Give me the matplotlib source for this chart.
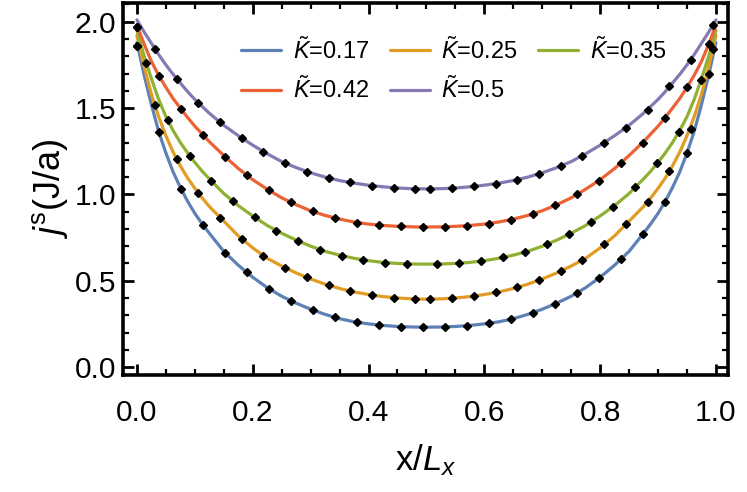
import matplotlib
matplotlib.use("Agg")
import matplotlib.pyplot as plt
from matplotlib.ticker import MultipleLocator, FormatStrFormatter

plt.rcParams['font.family'] = ['Liberation Sans', 'DejaVu Sans']
plt.rcParams['mathtext.fontset'] = 'custom'
plt.rcParams['mathtext.rm'] = 'Liberation Sans'
plt.rcParams['mathtext.it'] = 'Liberation Sans:italic'

# ---- curves ----
x_line = [0.0, 0.0125, 0.025, 0.0375, 0.05, 0.0625, 0.075, 0.0875, 0.1, 0.1125, 0.125,
          0.15, 0.175, 0.2, 0.225, 0.25, 0.275, 0.3, 0.325, 0.35, 0.375, 0.4, 0.425, 0.45,
          0.475, 0.5, 0.525, 0.55, 0.575, 0.6, 0.625, 0.65, 0.675, 0.7, 0.725, 0.75, 0.775,
          0.8, 0.825, 0.85, 0.875, 0.8875, 0.9, 0.9125, 0.925, 0.9375, 0.95, 0.9625, 0.975,
          0.9875, 1.0]

line_017 = [1.88, 1.69, 1.52, 1.365, 1.24, 1.13, 1.04, 0.96, 0.89, 0.83, 0.775, 0.67, 0.59,
            0.52, 0.46, 0.41, 0.37, 0.335, 0.305, 0.28, 0.262, 0.25, 0.241, 0.235, 0.232, 0.231,
            0.232, 0.235, 0.241, 0.25, 0.262, 0.28, 0.305, 0.335, 0.37, 0.41, 0.46, 0.52, 0.59,
            0.67, 0.775, 0.83, 0.89, 0.96, 1.04, 1.13, 1.24, 1.365, 1.52, 1.69, 1.88]
line_025 = [1.92, 1.74, 1.58, 1.45, 1.34, 1.245, 1.165, 1.095, 1.035, 0.98, 0.93, 0.845, 0.76,
            0.69, 0.63, 0.585, 0.545, 0.51, 0.48, 0.455, 0.435, 0.42, 0.408, 0.40, 0.395, 0.393,
            0.395, 0.40, 0.408, 0.42, 0.435, 0.455, 0.48, 0.51, 0.545, 0.585, 0.63, 0.69, 0.76,
            0.845, 0.93, 0.98, 1.035, 1.095, 1.165, 1.245, 1.34, 1.45, 1.58, 1.74, 1.92]
line_035 = [1.95, 1.80, 1.67, 1.55, 1.45, 1.37, 1.30, 1.24, 1.185, 1.135, 1.09, 1.005, 0.935,
            0.875, 0.82, 0.775, 0.735, 0.70, 0.67, 0.648, 0.63, 0.616, 0.606, 0.60, 0.597, 0.596,
            0.597, 0.60, 0.606, 0.616, 0.63, 0.648, 0.67, 0.70, 0.735, 0.775, 0.82, 0.875, 0.935,
            1.005, 1.09, 1.135, 1.185, 1.24, 1.30, 1.37, 1.45, 1.55, 1.67, 1.80, 1.95]
line_042 = [1.98, 1.87, 1.77, 1.69, 1.62, 1.555, 1.50, 1.445, 1.395, 1.35, 1.305, 1.225, 1.15,
            1.085, 1.03, 0.98, 0.94, 0.905, 0.878, 0.857, 0.84, 0.828, 0.82, 0.815, 0.812, 0.811,
            0.812, 0.815, 0.82, 0.828, 0.84, 0.857, 0.878, 0.905, 0.94, 0.98, 1.03, 1.085, 1.15,
            1.225, 1.305, 1.35, 1.395, 1.445, 1.50, 1.555, 1.62, 1.69, 1.77, 1.87, 1.98]
line_050 = [2.01, 1.94, 1.875, 1.81, 1.75, 1.695, 1.645, 1.595, 1.55, 1.51, 1.47, 1.40, 1.34,
            1.285, 1.235, 1.19, 1.155, 1.125, 1.10, 1.08, 1.065, 1.053, 1.044, 1.037, 1.033, 1.032,
            1.033, 1.037, 1.044, 1.053, 1.065, 1.08, 1.10, 1.125, 1.155, 1.19, 1.235, 1.285, 1.34,
            1.40, 1.47, 1.51, 1.55, 1.595, 1.645, 1.695, 1.75, 1.81, 1.875, 1.94, 2.01]

# ---- numerical points (diamonds), each set on its own grid ----
x_pts_a = [0.0, 0.038, 0.076, 0.114, 0.152, 0.19, 0.228, 0.266, 0.304, 0.342, 0.38, 0.418,
           0.456, 0.494, 0.532, 0.57, 0.608, 0.646, 0.684, 0.722, 0.76, 0.798, 0.836, 0.874,
           0.912, 0.95, 0.988]
x_pts_b = [0.0, 0.031, 0.0685, 0.106, 0.1435, 0.181, 0.2185, 0.256, 0.2935, 0.331, 0.3685,
           0.406, 0.4435, 0.481, 0.507, 0.5445, 0.582, 0.6195, 0.657, 0.6945, 0.732, 0.7695,
           0.807, 0.8445, 0.882, 0.9195, 0.957, 0.9945]
x_pts_c = [0.016, 0.0535, 0.091, 0.1285, 0.166, 0.2035, 0.241, 0.2785, 0.316, 0.3535, 0.391,
           0.4285, 0.466, 0.518, 0.556, 0.594, 0.632, 0.67, 0.708, 0.746, 0.784, 0.822, 0.86,
           0.898, 0.936, 0.974]

pts_017 = [1.86, 1.36, 1.033, 0.823, 0.663, 0.548, 0.453, 0.385, 0.33, 0.288, 0.26, 0.243,
           0.234, 0.231, 0.233, 0.24, 0.254, 0.277, 0.314, 0.366, 0.43, 0.515, 0.625, 0.771,
           0.958, 1.24, 1.70]
pts_042 = [1.97, 1.687, 1.495, 1.345, 1.219, 1.11, 1.025, 0.953, 0.901, 0.863, 0.837, 0.822,
           0.814, 0.811, 0.813, 0.819, 0.831, 0.854, 0.887, 0.936, 1.0, 1.08, 1.18, 1.30,
           1.445, 1.62, 1.87]
pts_025 = [1.86, 1.515, 1.205, 1.008, 0.866, 0.743, 0.645, 0.575, 0.519, 0.475, 0.44, 0.417,
           0.402, 0.394, 0.393, 0.399, 0.411, 0.432, 0.462, 0.503, 0.556, 0.62, 0.71, 0.826,
           0.958, 1.135, 1.38, 1.84]
pts_050 = [1.97, 1.843, 1.67, 1.53, 1.418, 1.327, 1.248, 1.181, 1.132, 1.095, 1.069, 1.051,
           1.039, 1.033, 1.032, 1.036, 1.046, 1.06, 1.085, 1.12, 1.163, 1.225, 1.30, 1.387,
           1.49, 1.625, 1.78, 1.98]
pts_035 = [1.76, 1.43, 1.225, 1.078, 0.96, 0.867, 0.79, 0.73, 0.68, 0.646, 0.621, 0.605,
           0.598, 0.597, 0.601, 0.614, 0.635, 0.666, 0.711, 0.768, 0.84, 0.927, 1.04, 1.18,
           1.36, 1.66]

labels = [r'$\tilde{K}$=0.17', r'$\tilde{K}$=0.25', r'$\tilde{K}$=0.35',
          r'$\tilde{K}$=0.42', r'$\tilde{K}$=0.5']
colors = ['#5E81B5', '#E19C24', '#8FB032', '#EB6235', '#8778B3']
line_sets = [line_017, line_025, line_035, line_042, line_050]
pt_sets = [(x_pts_a, pts_017), (x_pts_b, pts_025), (x_pts_c, pts_035),
           (x_pts_a, pts_042), (x_pts_b, pts_050)]

fig = plt.figure(figsize=(7.47, 4.92), dpi=100)
ax = fig.add_axes([0.1647, 0.2378, 0.81, 0.756])

handles = []
for ys, c, lab in zip(line_sets, colors, labels):
    ln, = ax.plot(x_line, ys, color=c, lw=2.3, label=lab, zorder=2,
                  solid_capstyle='round', solid_joinstyle='round')
    handles.append(ln)
for xs, ys in pt_sets:
    ax.plot(xs, ys, 'D', color='black', ms=4.5, zorder=3)

ax.set_xlim(-0.024, 1.021)
ax.set_ylim(-0.046, 2.108)
ax.xaxis.set_major_locator(MultipleLocator(0.2))
ax.xaxis.set_minor_locator(MultipleLocator(0.05))
ax.yaxis.set_major_locator(MultipleLocator(0.5))
ax.yaxis.set_minor_locator(MultipleLocator(0.1))
ax.xaxis.set_major_formatter(FormatStrFormatter('%.1f'))
ax.yaxis.set_major_formatter(FormatStrFormatter('%.1f'))
ax.tick_params(which='both', direction='in', top=True, right=True, labelsize=21.5, colors='black')
ax.tick_params(which='major', length=8, width=2)
ax.tick_params(which='minor', length=4, width=1.6)
ax.tick_params(axis='x', pad=17)
ax.tick_params(axis='y', pad=5)
for sp in ax.spines.values():
    sp.set_linewidth(2.6)

ax.set_xlabel(r'x/$L_x$', fontsize=25, labelpad=11)
ax.set_ylabel(r'$j^{\mathrm{s}}$(J/a)', fontsize=26, labelpad=3)

# row-wise order: 0.17 0.25 0.35 / 0.42 0.5
order = [0, 3, 1, 4, 2]
ax.legend(handles=[handles[i] for i in order], ncol=3, loc='upper left',
          bbox_to_anchor=(0.160, 0.967), frameon=False, fontsize=17,
          handlelength=1.7, handletextpad=0.5, columnspacing=0.85,
          labelspacing=0.55, borderpad=0.4)

fig.savefig('out.png', dpi=100)
